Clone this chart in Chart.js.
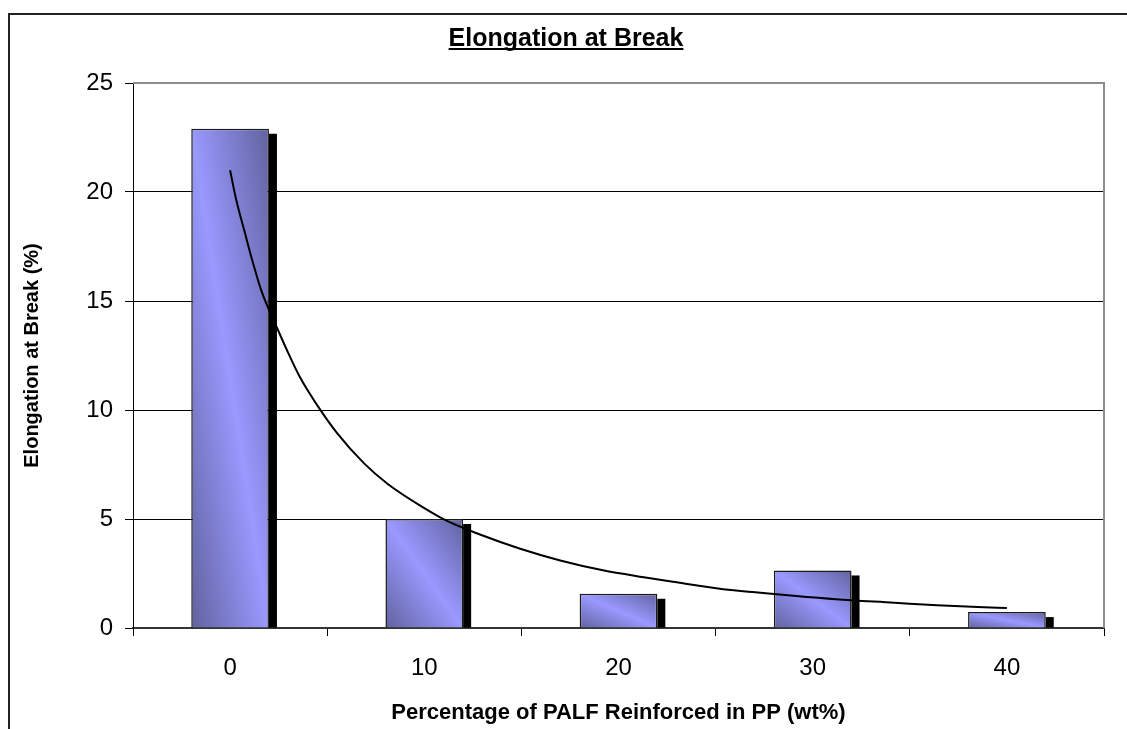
<!DOCTYPE html>
<html>
<head>
<meta charset="utf-8">
<script src="https://cdn.jsdelivr.net/npm/chart.js@4/dist/chart.umd.min.js"></script>
<style>
  html, body { margin: 0; padding: 0; background: #fff; }
</style>
</head>
<body>
<canvas id="myChart" width="1127" height="729"></canvas>
<script>
// data
const chartTitle = 'Elongation at Break';
const xTitle = 'Percentage of PALF Reinforced in PP (wt%)';
const yTitle = 'Elongation at Break (%)';
const categories = ['0', '10', '20', '30', '40'];
const elongation = [22.9, 5.0, 1.57, 2.64, 0.73];
const yTicks = [0, 5, 10, 15, 20, 25];
// trend line (x = category position, 0..4)
const trendX = [0, 0.03, 0.08, 0.11, 0.16, 0.2, 0.24, 0.29, 0.36, 0.45, 0.55, 0.69, 0.81, 1.0, 1.12, 1.29, 1.49, 1.7, 1.92, 2.13, 2.28, 2.54, 2.73, 2.9, 3.12, 3.42, 3.64, 3.85, 4.0];
const trendY = [21.0, 19.7, 18.0, 17.0, 15.5, 14.6, 13.8, 12.8, 11.5, 10.2, 8.95, 7.55, 6.62, 5.5, 4.9, 4.28, 3.65, 3.1, 2.65, 2.33, 2.12, 1.78, 1.62, 1.48, 1.32, 1.16, 1.04, 0.96, 0.92];

const FONT = 'Arial, "Liberation Sans", sans-serif';
const BAR_PCT = 0.4;

// diagonal gradient like the excel fill
function barFill(context) {
    const chart = context.chart;
    const xs = chart.scales.x, ys = chart.scales.y;
    if (!xs || !ys || context.dataIndex === undefined) return '#9999ff';
    const i = context.dataIndex;
    const w = xs.width / categories.length * BAR_PCT;
    const cx = xs.getPixelForValue(i);
    const right = cx + w / 2;
    const top = ys.getPixelForValue(elongation[i]);
    const h = ys.getPixelForValue(0) - top;
    if (!(h > 0) || !(w > 0)) return '#9999ff';
    const k = 2 * w * h / (w * w + h * h);
    const g = chart.ctx.createLinearGradient(right, top, right - k * h, top + k * w);
    g.addColorStop(0, '#62629f');
    g.addColorStop(0.5, '#9999ff');
    g.addColorStop(1, '#62629f');
    return g;
}

// frame, plot border, title
const decor = {
    id: 'decor',
    beforeDraw(chart) {
        const ctx = chart.ctx;
        ctx.save();
        ctx.fillStyle = '#fff';
        ctx.fillRect(0, 0, chart.width, chart.height);
        ctx.strokeStyle = '#222';
        ctx.lineWidth = 2;
        ctx.strokeRect(9, 14, chart.width + 20, chart.height + 20);
        ctx.restore();
    },
    beforeDatasetsDraw(chart) {
        const ctx = chart.ctx;
        const a = chart.chartArea;
        ctx.save();
        ctx.strokeStyle = '#8c8c8c';
        ctx.lineWidth = 2;
        ctx.beginPath();
        ctx.moveTo(a.left, a.top);
        ctx.lineTo(a.right, a.top);
        ctx.lineTo(a.right, a.bottom);
        ctx.stroke();
        ctx.restore();
    },
    afterDraw(chart) {
        const ctx = chart.ctx;
        ctx.save();
        ctx.font = 'bold 25px ' + FONT;
        ctx.fillStyle = '#000';
        ctx.textAlign = 'center';
        ctx.textBaseline = 'alphabetic';
        const cx = 566;
        ctx.fillText(chartTitle, cx, 46);
        const tw = ctx.measureText(chartTitle).width;
        ctx.fillRect(cx - tw / 2, 48, tw, 2);
        ctx.restore();
    }
};

// black side face on the right of each bar
const barShadow = {
    id: 'barShadow',
    afterDatasetsDraw(chart) {
        const ctx = chart.ctx;
        const meta = chart.getDatasetMeta(0);
        ctx.save();
        ctx.fillStyle = '#000';
        meta.data.forEach(bar => {
            const r = bar.x + bar.width / 2;
            ctx.fillRect(r, bar.y + 5, 8, bar.base - bar.y - 5);
        });
        ctx.restore();
    }
};

const ctx = document.getElementById('myChart').getContext('2d');
const myChart = new Chart(ctx, {
    type: 'bar',
    data: {
        labels: categories,
        datasets: [{
            label: 'Elongation at Break',
            data: elongation,
            backgroundColor: barFill,
            borderColor: '#1a1a1a',
            borderWidth: 1.5,
            barPercentage: BAR_PCT,
            categoryPercentage: 1,
            grouped: false,
            order: 1
        }, {
            type: 'line',
            label: 'trend',
            data: trendX.map((x, i) => ({ x: x, y: trendY[i] })),
            xAxisID: 'xt',
            borderColor: '#000',
            borderWidth: 2,
            pointRadius: 0,
            fill: false,
            cubicInterpolationMode: 'monotone',
            order: 0
        }]
    },
    options: {
        responsive: false,
        animation: false,
        events: [],
        layout: { padding: { left: 0, right: 23, top: 83, bottom: 0 } },
        plugins: {
            legend: { display: false },
            tooltip: { enabled: false },
            title: { display: false }
        },
        scales: {
            x: {
                offset: true,
                grid: { offset: true, drawOnChartArea: false, drawTicks: true, tickLength: 8, color: '#000' },
                border: { color: '#333', width: 2 },
                ticks: { font: { family: FONT, size: 24 }, color: '#000', padding: 18, maxRotation: 0 },
                title: {
                    display: true, text: xTitle, color: '#000',
                    font: { family: FONT, size: 22, weight: 'bold' },
                    padding: { top: 0, bottom: 3 }
                },
                afterFit: s => { s.height = 101; }
            },
            xt: {
                type: 'linear', display: false, min: -0.5, max: 4.5, offset: false
            },
            y: {
                min: 0, max: 25,
                afterBuildTicks: s => { s.ticks = yTicks.map(v => ({ value: v })); },
                ticks: { font: { family: FONT, size: 24 }, color: '#000', padding: 12 },
                grid: {
                    color: c => (c.tick && c.tick.value === 25) ? '#8c8c8c' : '#000',
                    tickColor: '#000',
                    tickLength: 8,
                    lineWidth: 1
                },
                border: { color: '#000', width: 1 },
                title: {
                    display: true, text: yTitle, color: '#000',
                    font: { family: FONT, size: 20, weight: 'bold' },
                    padding: { top: 20, bottom: 0 }
                },
                afterFit: s => { s.width = 133; }
            }
        }
    },
    plugins: [decor, barShadow]
});
</script>
</body>
</html>
